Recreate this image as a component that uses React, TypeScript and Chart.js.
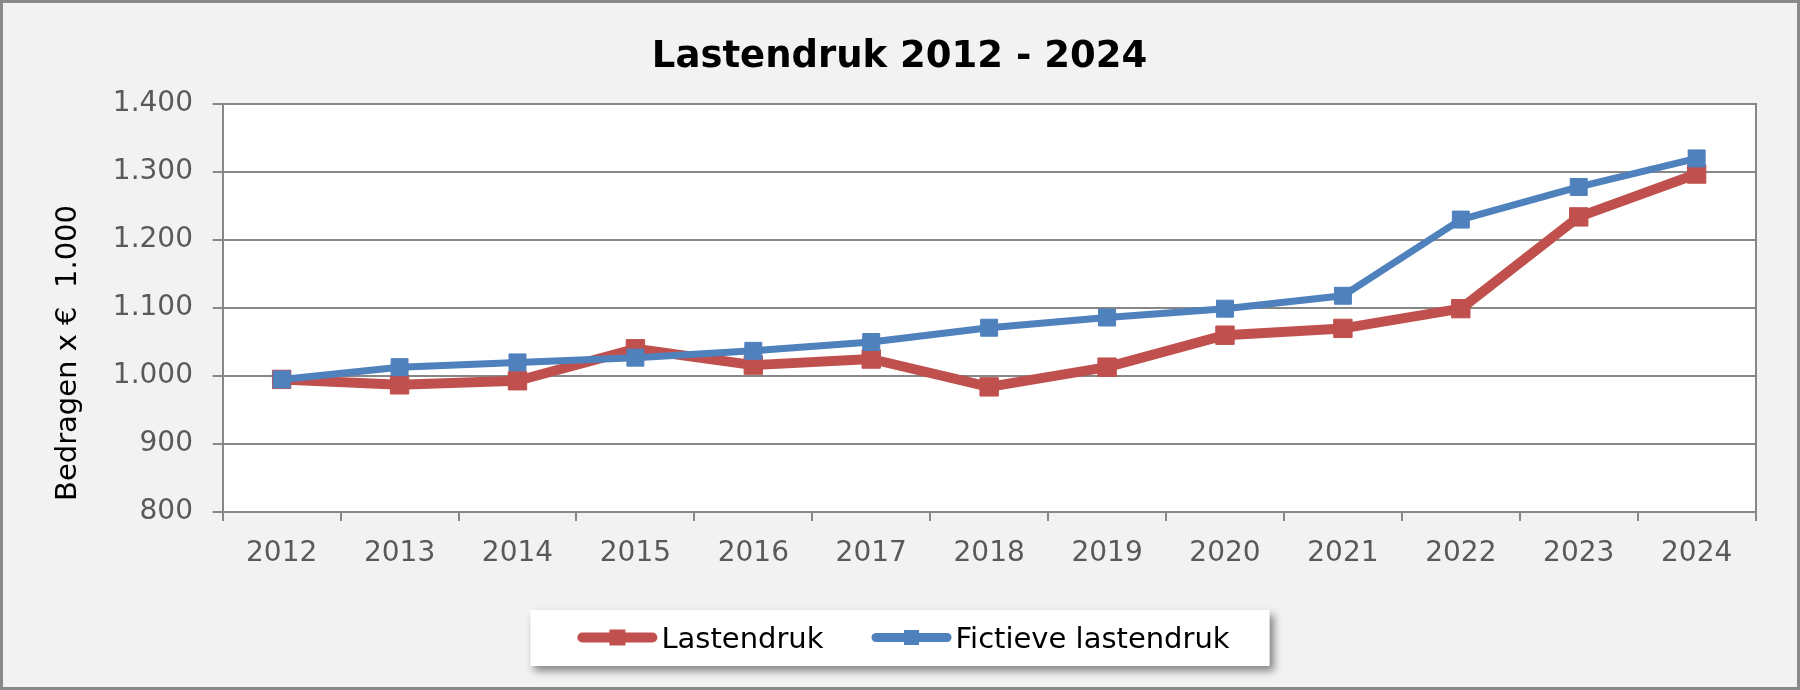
import React, { useEffect, useRef } from 'react';
import { Chart, registerables } from 'chart.js';

Chart.register(...registerables);

const years = ['2012', '2013', '2014', '2015', '2016', '2017', '2018', '2019', '2020', '2021', '2022', '2023', '2024'];
const lastendruk = [995, 987, 993, 1040, 1016, 1025, 984, 1013, 1060, 1070, 1099, 1234, 1297];
const fictieveLastendruk = [995, 1013, 1020, 1027, 1037, 1050, 1071, 1086, 1099, 1118, 1230, 1278, 1320];
const seriesLabels = ['Lastendruk', 'Fictieve lastendruk'];
const yMin = 800;
const yMax = 1400;
const yStep = 100;
const chartTitle = 'Lastendruk 2012 - 2024';
const yAxisTitle = 'Bedragen x €  1.000';

const FONT = '"DejaVu Sans", Verdana, sans-serif';
const RED = '#C0504D';
const BLUE = '#4F81BD';
const GRID = '#878787';
const TICK = '#595959';

function fmtThousands(v: number): string {
  if (v >= 1000) {
    const k = Math.floor(v / 1000);
    const r = v % 1000;
    return `${k}.${String(r).padStart(3, '0')}`;
  }
  return String(v);
}

const framePlugin = {
  id: 'framePlugin',
  beforeDraw(chart: any) {
    const { ctx, width, height, chartArea: a } = chart;
    ctx.save();
    ctx.fillStyle = '#F2F2F2';
    ctx.fillRect(0, 0, width, height);
    ctx.fillStyle = '#FFFFFF';
    ctx.fillRect(a.left, a.top, a.right - a.left, a.bottom - a.top);
    ctx.strokeStyle = '#898989';
    ctx.lineWidth = 3;
    ctx.strokeRect(1.5, 1.5, width - 3, height - 3);
    ctx.restore();
  },
  beforeDatasetsDraw(chart: any) {
    const { ctx, chartArea: a } = chart;
    ctx.save();
    ctx.strokeStyle = GRID;
    ctx.lineWidth = 2;
    ctx.beginPath();
    ctx.moveTo(Math.round(a.right), a.top - 1);
    ctx.lineTo(Math.round(a.right), a.bottom);
    ctx.stroke();
    ctx.restore();
  },
  afterDraw(chart: any) {
    const { ctx } = chart;
    // chart title
    ctx.save();
    ctx.font = `bold 37px ${FONT}`;
    ctx.fillStyle = '#000000';
    ctx.textAlign = 'center';
    ctx.textBaseline = 'alphabetic';
    ctx.fillText(chartTitle, 899.5, 66.7);
    ctx.restore();

    // y-axis title
    ctx.save();
    ctx.translate(68.5, 353);
    ctx.rotate(-Math.PI / 2);
    ctx.font = `29px ${FONT}`;
    ctx.fillStyle = '#000000';
    ctx.textAlign = 'center';
    ctx.textBaseline = 'middle';
    ctx.fillText(yAxisTitle, 0, 0);
    ctx.restore();

    // legend
    ctx.save();
    ctx.font = `29px ${FONT}`;
    const sampleW = 80;
    const gapText = 4;
    const gapItem = 48;
    const padL = 47;
    const padR = 40;
    const items = chart.data.datasets.map((ds: any, i: number) => ({
      label: ds.label as string,
      color: ds.borderColor as string,
      lw: i === 0 ? 10 : 9,
      ms: i === 0 ? 16 : 15,
      tw: ctx.measureText(ds.label).width,
    }));
    let total = 0;
    items.forEach((it: any, i: number) => {
      total += sampleW + gapText + it.tw + (i < items.length - 1 ? gapItem : 0);
    });
    const boxW = padL + total + padR;
    const boxX = chart.width / 2 - boxW / 2;
    const boxY = 610;
    const boxH = 56;
    ctx.save();
    ctx.shadowColor = 'rgba(0,0,0,0.45)';
    ctx.shadowBlur = 8;
    ctx.shadowOffsetX = 4;
    ctx.shadowOffsetY = 5;
    ctx.fillStyle = '#FFFFFF';
    ctx.fillRect(boxX, boxY, boxW, boxH);
    ctx.restore();
    let x = boxX + padL;
    const cy = 637.5;
    items.forEach((it: any) => {
      ctx.strokeStyle = it.color;
      ctx.lineWidth = it.lw;
      ctx.lineCap = 'round';
      ctx.beginPath();
      ctx.moveTo(x + it.lw / 2, cy);
      ctx.lineTo(x + sampleW - it.lw / 2, cy);
      ctx.stroke();
      ctx.fillStyle = it.color;
      ctx.fillRect(x + sampleW / 2 - it.ms / 2, cy - it.ms / 2, it.ms, it.ms);
      ctx.fillStyle = '#000000';
      ctx.textAlign = 'left';
      ctx.textBaseline = 'alphabetic';
      ctx.fillText(it.label, x + sampleW + gapText, 648);
      x += sampleW + gapText + it.tw + gapItem;
    });
    ctx.restore();
  },
};

export default function App() {
  const canvasRef = useRef<HTMLCanvasElement | null>(null);

  useEffect(() => {
    document.body.style.margin = '0';
    document.body.style.overflow = 'hidden';
    const canvas = canvasRef.current;
    if (!canvas) return;
    const chart = new Chart(canvas, {
      type: 'line',
      data: {
        labels: years,
        datasets: [
          {
            label: seriesLabels[0],
            data: lastendruk,
            borderColor: RED,
            backgroundColor: RED,
            borderWidth: 10,
            pointStyle: 'rect',
            pointRadius: 13,
            pointBorderWidth: 1,
            pointBackgroundColor: RED,
            pointBorderColor: RED,
            borderJoinStyle: 'round',
            borderCapStyle: 'round',
            tension: 0,
            order: 2,
          },
          {
            label: seriesLabels[1],
            data: fictieveLastendruk,
            borderColor: BLUE,
            backgroundColor: BLUE,
            borderWidth: 7,
            pointStyle: 'rect',
            pointRadius: 12,
            pointBorderWidth: 1,
            pointBackgroundColor: BLUE,
            pointBorderColor: BLUE,
            borderJoinStyle: 'round',
            borderCapStyle: 'round',
            tension: 0,
            order: 1,
          },
        ],
      },
      options: {
        responsive: false,
        animation: false,
        devicePixelRatio: 1,
        layout: { padding: { left: 0, right: 44.4, top: 104, bottom: 118 } },
        plugins: {
          legend: { display: false },
          tooltip: { enabled: false },
          title: { display: false },
        },
        scales: {
          x: {
            type: 'category',
            offset: true,
            grid: {
              offset: true,
              drawOnChartArea: false,
              drawTicks: true,
              tickLength: 9,
              color: GRID,
              lineWidth: 2,
            },
            border: { display: true, color: GRID, width: 2 },
            ticks: {
              color: TICK,
              font: { family: FONT, size: 28 },
              padding: 16,
              maxRotation: 0,
              autoSkip: false,
            },
            afterFit: (scale: any) => {
              scale.height = 60;
            },
          },
          y: {
            min: yMin,
            max: yMax,
            grid: { color: GRID, lineWidth: 2, tickLength: 10, drawTicks: true },
            border: { display: true, color: GRID, width: 2 },
            ticks: {
              stepSize: yStep,
              color: TICK,
              font: { family: FONT, size: 28 },
              padding: 19.7,
              callback: (v: any) => fmtThousands(Number(v)),
            },
            afterFit: (scale: any) => {
              scale.width = 222.7;
            },
          },
        },
      },
      plugins: [framePlugin],
    });
    return () => chart.destroy();
  }, []);

  return <canvas ref={canvasRef} width={1800} height={690} style={{ display: 'block' }} />;
}
